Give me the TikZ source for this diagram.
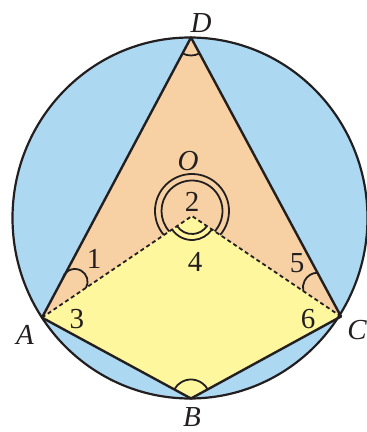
\documentclass[tikz,border=0pt]{standalone}
\usepackage{fontspec}
\setmainfont{Liberation Serif}
\usetikzlibrary{calc}
\definecolor{skyb}{RGB}{172,217,241}
\definecolor{peach}{RGB}{247,209,163}
\definecolor{lemon}{RGB}{255,247,158}
\definecolor{ink}{RGB}{35,31,32}
\begin{document}
\begin{tikzpicture}[x=1pt,y=1pt,
  lbl/.style={font=\fontsize{29}{32}\selectfont\itshape, inner sep=0pt, text=ink},
  num/.style={font=\fontsize{29}{32}\selectfont, inner sep=0pt, text=ink},
  edgeline/.style={draw=ink, line width=2.4pt, line join=round, line cap=round},
  dashline/.style={draw=ink, line width=1.8pt, dash pattern=on 4pt off 3pt},
  angmark/.style={draw=ink, line width=1.8pt}
]
\useasboundingbox (0,0) rectangle (367,432);
\coordinate (A) at (42,114.4);
\coordinate (C) at (341,115.5);
\coordinate (D) at (191,394.5);
\coordinate (B) at (191,33.5);
\coordinate (O) at (192,216);
\coordinate (E) at (190,214);
% fills
\fill[skyb] (E) ellipse [x radius=177.5, y radius=180.5];
\fill[peach] (A) -- (D) -- (C) -- (O) -- cycle;
\fill[lemon] (A) -- (O) -- (C) -- (B) -- cycle;
% lines
\draw[dashline] (A) -- (O) -- (C);
\draw[edgeline] (A) -- (D) -- (C);
\draw[edgeline] (A) -- (B) -- (C);
\draw[ink, line width=2.2pt] (E) ellipse [x radius=177.5, y radius=180.5];
% angle marks
\draw[angmark] ($(D)+(242.0:18)$) arc[start angle=242.0, end angle=298.3, radius=18];
\draw[angmark] ($(B)+(28.7:19)$) arc[start angle=28.7, end angle=151.5, radius=19];
\draw[angmark] ($(74.84,150.3)+(-28.7:12.75)$) arc[start angle=-28.7, end angle=167.8, radius=12.75];
\draw[angmark] ($(317.8,144.4)+(91.9:14.9)$) arc[start angle=91.9, end angle=193.6, radius=14.9];
\coordinate (Oc) at (192,221);
\draw[angmark] ($(Oc)+(-40.4:37)$) arc[start angle=-40.4, end angle=220.4, radius=37];
\draw[angmark] ($(Oc)+(-41.8:30.5)$) arc[start angle=-41.8, end angle=221.8, radius=30.5];
\draw[angmark] ($(O)+(214.1:18)$) arc[start angle=214.1, end angle=326, radius=18];
\draw[angmark] ($(O)+(214.1:24)$) arc[start angle=214.1, end angle=326, radius=24];
% labels
\node[lbl] (lD) at (201,409) {D};
\node[lbl] (lO) at (188,271) {O};
\node[lbl] (lA) at (25,97) {A};
\node[lbl] (lC) at (357,102) {C};
\node[lbl] (lB) at (192,15) {B};
\node[num] (n1) at (94,173) {1};
\node[num] (n2) at (192,230) {2};
\node[num] (n3) at (77,113) {3};
\node[num] (n4) at (195,170) {4};
\node[num] (n5) at (297,169) {5};
\node[num] (n6) at (308,113) {6};
\end{tikzpicture}
\end{document}
